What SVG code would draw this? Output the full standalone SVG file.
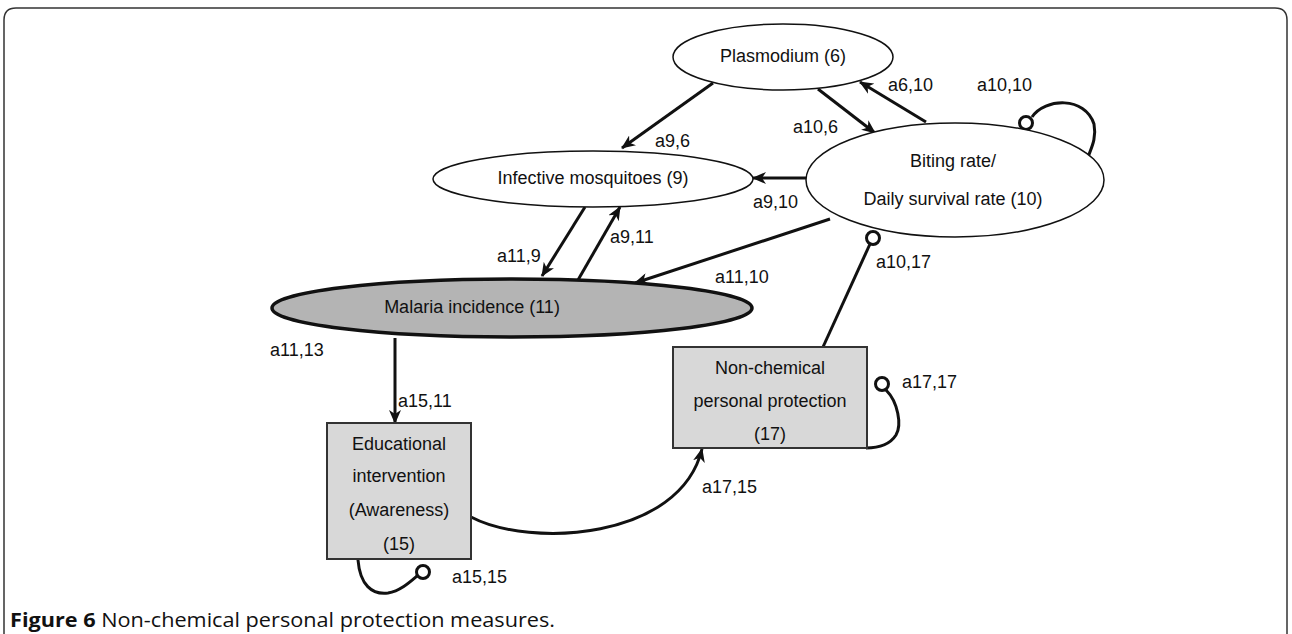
<svg xmlns="http://www.w3.org/2000/svg" width="1292" height="634" viewBox="0 0 1292 634">
<style>
.t{font-family:"Liberation Sans",Arial,sans-serif;font-size:18px;fill:#111}
.c{text-anchor:middle}
.ell{fill:#fff;stroke:#111;stroke-width:1.5}
.box{fill:#d8d8d8;stroke:#333;stroke-width:2}
.ln{fill:none;stroke:#111;stroke-width:3}
.ci{fill:#fff;stroke:#111;stroke-width:3}
.cap{font-family:"Open Sans","Noto Sans",sans-serif;font-size:20px;fill:#111}
</style>
<defs>
<marker id="ar" viewBox="0 0 14 12" refX="13" refY="6" markerWidth="14" markerHeight="12" markerUnits="userSpaceOnUse" orient="auto">
<path d="M0,0 L14,6 L0,12 L4,6 Z" fill="#111"/>
</marker>
</defs>
<rect width="1292" height="634" fill="#fff"/>
<path d="M4,634 V20 Q4,8 16,8 H1275 Q1287,8 1287,20 V634" fill="none" stroke="#333" stroke-width="1.5"/>

<g id="connectors">
<path class="ln" d="M713,83 L622,148" marker-end="url(#ar)"/>
<path class="ln" d="M818,89 L875,133" marker-end="url(#ar)"/>
<path class="ln" d="M926,122 L860,82" marker-end="url(#ar)"/>
<path class="ln" d="M1032,117 C1045,98 1085,96 1094,124 C1097,140 1090,150 1087,160"/>
<circle class="ci" cx="1026" cy="123" r="6.5"/>
<path class="ln" d="M808,178 L753,178" marker-end="url(#ar)"/>
<path class="ln" d="M585,207 L542,276" marker-end="url(#ar)"/>
<path class="ln" d="M578,280 L620,207" marker-end="url(#ar)"/>
<path class="ln" d="M830,219 L635,283" marker-end="url(#ar)"/>
<path class="ln" d="M870,244 L823,347"/>
<circle class="ci" cx="873" cy="238" r="6.5"/>
<path class="ln" d="M395,338 L395,423" marker-end="url(#ar)"/>
<path class="ln" d="M471,517 C530,548 680,540 702,449" marker-end="url(#ar)"/>
<path class="ln" d="M358,560 C360,585 372,595 388,593 C400,591 410,582 417,576"/>
<circle class="ci" cx="423" cy="572" r="6.5"/>
<path class="ln" d="M886,390 C898,402 902,425 896,435 C889,446 876,448 866,448"/>
<circle class="ci" cx="882" cy="384" r="6.5"/>
<text class="t" x="655" y="147">a9,6</text>
<text class="t" x="793" y="133">a10,6</text>
<text class="t" x="888" y="91">a6,10</text>
<text class="t" x="977" y="91">a10,10</text>
<text class="t" x="753" y="208">a9,10</text>
<text class="t" x="497" y="262">a11,9</text>
<text class="t" x="610" y="243">a9,11</text>
<text class="t" x="715" y="283">a11,10</text>
<text class="t" x="876" y="268">a10,17</text>
<text class="t" x="270" y="356">a11,13</text>
<text class="t" x="398" y="407">a15,11</text>
<text class="t" x="702" y="493">a17,15</text>
<text class="t" x="452" y="583">a15,15</text>
<text class="t" x="902" y="388">a17,17</text>
</g>

<g id="plasmodium">
<ellipse class="ell" cx="783" cy="57" rx="110" ry="33"/>
<text class="t c" x="783" y="62">Plasmodium (6)</text>
</g>
<g id="infective">
<ellipse class="ell" cx="593" cy="179" rx="160" ry="28"/>
<text class="t c" x="593" y="184">Infective mosquitoes (9)</text>
</g>
<g id="biting">
<ellipse class="ell" cx="955" cy="180" rx="149" ry="57"/>
<text class="t c" x="953" y="167">Biting rate/</text>
<text class="t c" x="953" y="205">Daily survival rate (10)</text>
</g>
<g id="malaria">
<ellipse cx="512" cy="308" rx="240" ry="29" fill="#b4b4b4" stroke="#111" stroke-width="3.5"/>
<text class="t c" x="472" y="313">Malaria incidence (11)</text>
</g>
<g id="educational">
<rect class="box" x="327" y="423" width="144" height="136"/>
<text class="t c" x="399" y="450">Educational</text>
<text class="t c" x="399" y="482">intervention</text>
<text class="t c" x="399" y="516">(Awareness)</text>
<text class="t c" x="399" y="550">(15)</text>
</g>
<g id="nonchemical">
<rect class="box" x="673" y="347" width="194" height="101"/>
<text class="t c" x="770" y="374">Non-chemical</text>
<text class="t c" x="770" y="407">personal protection</text>
<text class="t c" x="770" y="440">(17)</text>
</g>
<text class="cap" x="10" y="627" textLength="545" lengthAdjust="spacingAndGlyphs"><tspan font-weight="bold">Figure 6</tspan> Non-chemical personal protection measures.</text>
</svg>
